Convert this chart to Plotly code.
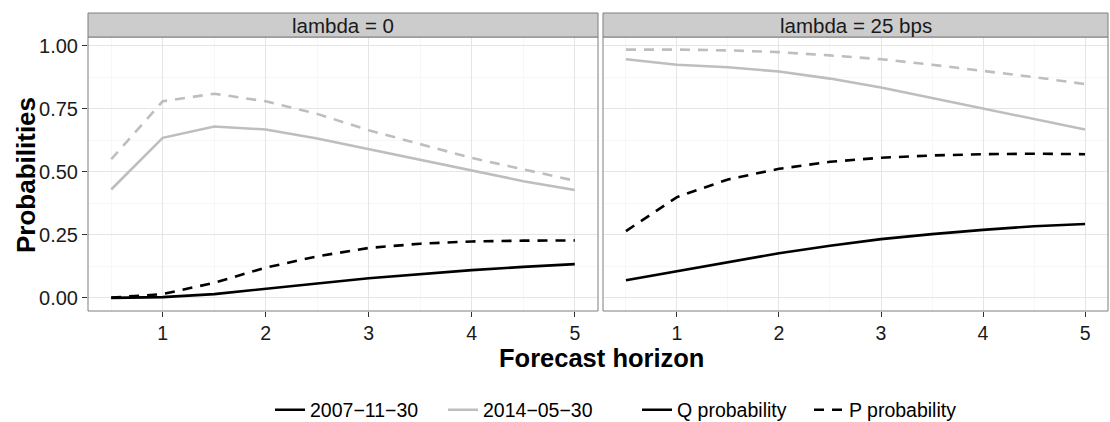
import plotly.graph_objects as go

horizon = [0.5, 1, 1.5, 2, 2.5, 3, 3.5, 4, 4.5, 5]
panels = ["lambda = 0", "lambda = 25 bps"]
dates = ["2007\u221211\u221230", "2014\u221205\u221230"]
kinds = ["Q probability", "P probability"]

# lambda = 0
l0_2007_Q = [0.000, 0.003, 0.015, 0.035, 0.057, 0.078, 0.095, 0.110, 0.123, 0.134]
l0_2007_P = [0.001, 0.015, 0.060, 0.120, 0.165, 0.198, 0.215, 0.224, 0.227, 0.228]
l0_2014_Q = [0.430, 0.635, 0.680, 0.668, 0.632, 0.590, 0.545, 0.503, 0.463, 0.428]
l0_2014_P = [0.550, 0.780, 0.810, 0.780, 0.730, 0.665, 0.610, 0.555, 0.510, 0.465]
# lambda = 25 bps
l25_2007_Q = [0.070, 0.105, 0.142, 0.177, 0.207, 0.233, 0.253, 0.270, 0.284, 0.293]
l25_2007_P = [0.265, 0.400, 0.470, 0.512, 0.540, 0.556, 0.565, 0.570, 0.572, 0.570]
l25_2014_Q = [0.947, 0.925, 0.915, 0.898, 0.870, 0.835, 0.793, 0.752, 0.710, 0.668]
l25_2014_P = [0.985, 0.985, 0.982, 0.975, 0.962, 0.947, 0.925, 0.900, 0.876, 0.848]

y_ticks = [0, 0.25, 0.5, 0.75, 1.0]
y_labels = ["0.00", "0.25", "0.50", "0.75", "1.00"]
x_ticks = [1, 2, 3, 4, 5]

W, H = 1110, 422
colors = {dates[0]: "#000000", dates[1]: "#BEBEBE"}
dashes = {kinds[0]: "solid", kinds[1]: "10px,8px"}
LW = 2.6

series = {
    (0, dates[0], kinds[0]): l0_2007_Q,
    (0, dates[0], kinds[1]): l0_2007_P,
    (0, dates[1], kinds[0]): l0_2014_Q,
    (0, dates[1], kinds[1]): l0_2014_P,
    (1, dates[0], kinds[0]): l25_2007_Q,
    (1, dates[0], kinds[1]): l25_2007_P,
    (1, dates[1], kinds[0]): l25_2014_Q,
    (1, dates[1], kinds[1]): l25_2014_P,
}

fig = go.Figure()
for d in [dates[1], dates[0]]:
    for p in [0, 1]:
        for k in kinds:
            fig.add_trace(go.Scatter(
                x=horizon, y=series[(p, d, k)], mode="lines",
                line=dict(color=colors[d], width=LW, dash=dashes[k]),
                xaxis="x" if p == 0 else "x2", yaxis="y" if p == 0 else "y2",
                showlegend=False, hoverinfo="skip"))


def px(x):
    return x / W


def py(y):
    return (H - y) / H


FONT = "Liberation Sans, Arial, Helvetica, sans-serif"
LEG_Y = 410
legend_items = [
    (dates[0], colors[dates[0]], "solid", "legend", 270),
    (dates[1], colors[dates[1]], "solid", "legend2", 443),
    (kinds[0], "#000000", dashes[kinds[0]], "legend3", 637),
    (kinds[1], "#000000", dashes[kinds[1]], "legend4", 809),
]
leg_layout = {}
for name, col, dash, lg, x0 in legend_items:
    fig.add_trace(go.Scatter(x=[None], y=[None], mode="lines", name=name,
                             line=dict(color=col, width=LW, dash=dash), legend=lg))
    leg_layout[lg] = dict(orientation="h", x=px(x0), xanchor="left", y=py(LEG_Y),
                          yanchor="middle", font=dict(size=19.5, family=FONT, color="#000000"),
                          bgcolor="rgba(0,0,0,0)", borderwidth=0)

top, bot = 37, 311
xd1 = [px(88), px(598)]
xd2 = [px(603), px(1108)]
yd = [py(bot), py(top)]

common_x = dict(range=[0.275, 5.225], tickvals=x_ticks, ticks="outside", ticklen=5,
                tickcolor="#333333", tickwidth=1, showgrid=True, gridcolor="#E5E5E5",
                gridwidth=1, zeroline=False, showline=False,
                tickfont=dict(size=19.5, color="#1a1a1a", family=FONT),
                minor=dict(dtick=0.5, tick0=0.5, showgrid=True, gridcolor="#F7F7F7", ticks=""))
common_y = dict(range=[-0.052, 1.035], tickvals=y_ticks, ticktext=y_labels,
                ticklen=5, tickcolor="#333333", tickwidth=1, showgrid=True,
                gridcolor="#E5E5E5", gridwidth=1, zeroline=False, showline=False,
                tickfont=dict(size=20, color="#1a1a1a", family=FONT),
                minor=dict(dtick=0.125, tick0=0.125, showgrid=True, gridcolor="#F7F7F7", ticks=""))

fig.update_layout(
    width=W, height=H, margin=dict(l=0, r=0, t=0, b=0, autoexpand=False),
    paper_bgcolor="white", plot_bgcolor="white",
    font=dict(family=FONT, color="#000000"),
    xaxis=dict(domain=xd1, anchor="y", **common_x),
    xaxis2=dict(domain=xd2, anchor="y2", **common_x),
    yaxis=dict(domain=yd, anchor="x", ticks="outside", **common_y),
    yaxis2=dict(domain=yd, anchor="x2", showticklabels=False, ticks="", **common_y),
    showlegend=True,
    **leg_layout,
)

shapes = []
annotations = []
for i, xd in enumerate([xd1, xd2]):
    shapes.append(dict(type="rect", xref="paper", yref="paper", x0=xd[0], x1=xd[1],
                       y0=yd[0], y1=yd[1], line=dict(color="#7F7F7F", width=1),
                       fillcolor="rgba(0,0,0,0)", layer="above"))
    shapes.append(dict(type="rect", xref="paper", yref="paper", x0=xd[0], x1=xd[1],
                       y0=py(top), y1=py(13), line=dict(color="#7F7F7F", width=1),
                       fillcolor="#CCCCCC", layer="above"))
    annotations.append(dict(text=panels[i], xref="paper", yref="paper",
                            x=(xd[0] + xd[1]) / 2, y=py(25), xanchor="center",
                            yanchor="middle", showarrow=False,
                            font=dict(size=20.5, color="#1a1a1a", family=FONT)))

annotations.append(dict(text="<b>Probabilities</b>", xref="paper", yref="paper",
                        x=px(26), y=py(175), textangle=-90, showarrow=False,
                        xanchor="center", yanchor="middle",
                        font=dict(size=26, color="#000000", family=FONT)))
annotations.append(dict(text="<b>Forecast horizon</b>", xref="paper", yref="paper",
                        x=px(601), y=py(358), showarrow=False,
                        xanchor="center", yanchor="middle",
                        font=dict(size=25.5, color="#000000", family=FONT)))

fig.update_layout(shapes=shapes, annotations=annotations)
fig.write_html("out.html")
